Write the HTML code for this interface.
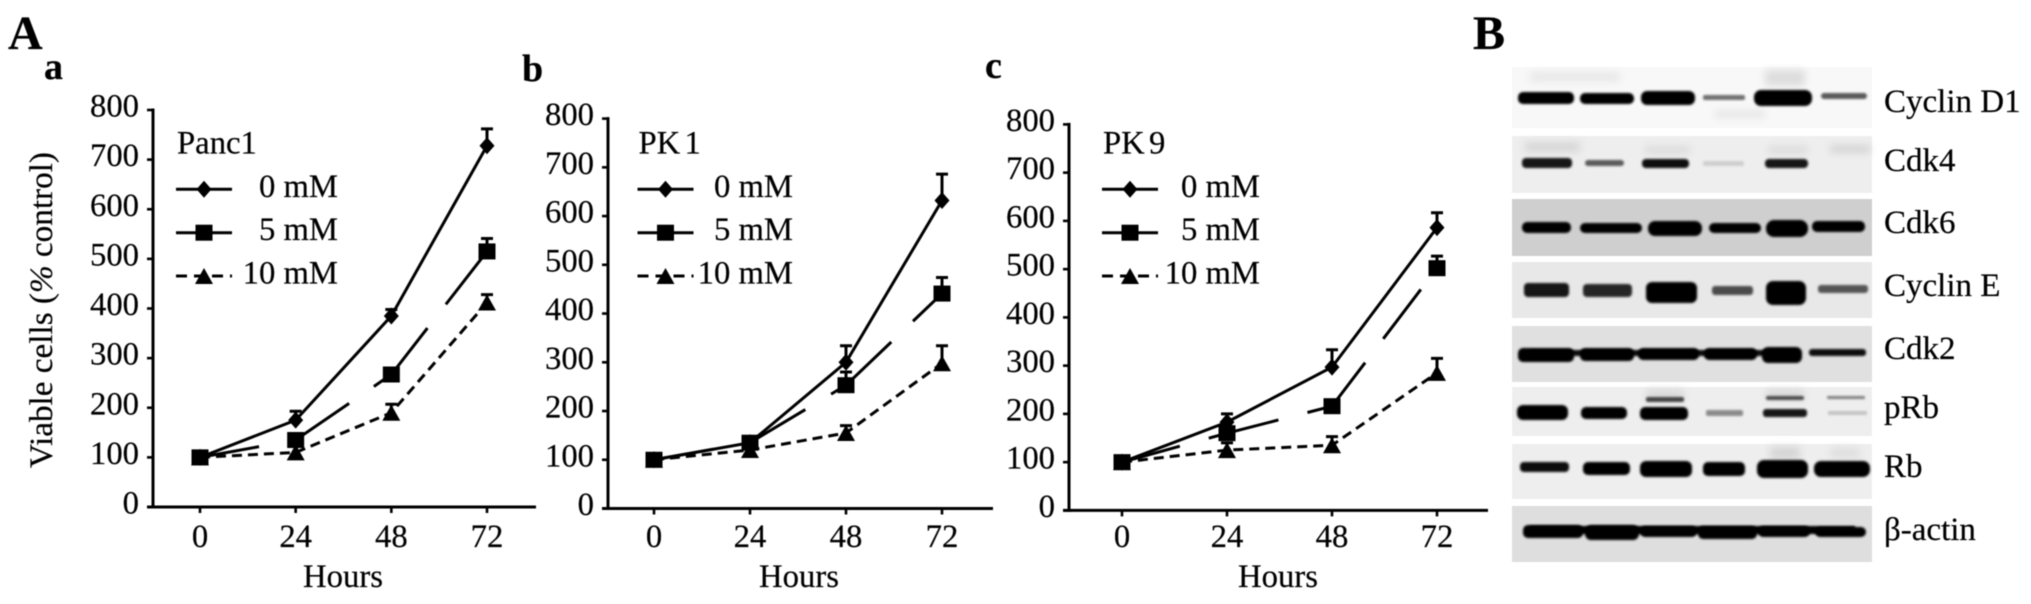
<!DOCTYPE html>
<html lang="en">
<head>
<meta charset="utf-8">
<title>Viability curves and western blots</title>
<style>
html,body{margin:0;padding:0;background:#fff;}
body{width:2031px;height:604px;overflow:hidden;}
svg{display:block;filter:blur(0.45px);}
text{font-family:"Liberation Serif",serif;fill:#000;stroke:#000;stroke-width:0.2px;}
</style>
</head>
<body>
<svg id="figure" xmlns="http://www.w3.org/2000/svg" width="2031" height="604" viewBox="0 0 2031 604">
<defs>
<filter id="band-blur" x="-20%" y="-100%" width="140%" height="300%"><feGaussianBlur stdDeviation="1.1"/></filter>
<filter id="smudge-blur" x="-20%" y="-100%" width="140%" height="300%"><feGaussianBlur stdDeviation="4"/></filter>
</defs>
<text x="8" y="49" font-size="48" font-weight="bold">A</text>
<text x="44" y="79" font-size="38" font-weight="bold">a</text>
<text x="522" y="81" font-size="38" font-weight="bold">b</text>
<text x="985" y="78" font-size="38" font-weight="bold">c</text>
<text x="1473" y="49" font-size="48" font-weight="bold">B</text>
<g id="charts"></g>

<g>
<g>
<rect x="1512" y="67" width="360" height="61" fill="#f8f8f8"/>
<rect x="1530" y="72" width="90" height="10" fill="#e8e8e8" filter="url(#smudge-blur)"/>
<rect x="1765" y="70" width="40" height="16" fill="#dddddd" filter="url(#smudge-blur)"/>
<rect x="1715" y="110" width="50" height="8" fill="#e6e6e6" filter="url(#smudge-blur)"/>
<rect x="1518" y="92" width="56" height="12" rx="5" fill="#000" filter="url(#band-blur)"/>
<rect x="1580" y="93" width="54" height="11" rx="5" fill="#050505" filter="url(#band-blur)"/>
<rect x="1641" y="91" width="54" height="14" rx="6" fill="#000" filter="url(#band-blur)"/>
<rect x="1703" y="95" width="42" height="5" rx="2" fill="#707070" filter="url(#band-blur)"/>
<rect x="1754" y="90" width="58" height="16" rx="7" fill="#000" filter="url(#band-blur)"/>
<rect x="1821" y="93" width="46" height="6" rx="3" fill="#5a5a5a" filter="url(#band-blur)"/>
</g>
<g>
<rect x="1512" y="136" width="360" height="57" fill="#eeeeee"/>
<rect x="1525" y="142" width="55" height="10" fill="#d6d6d6" filter="url(#smudge-blur)"/>
<rect x="1645" y="146" width="45" height="8" fill="#dcdcdc" filter="url(#smudge-blur)"/>
<rect x="1768" y="146" width="40" height="8" fill="#dcdcdc" filter="url(#smudge-blur)"/>
<rect x="1830" y="145" width="40" height="8" fill="#d4d4d4" filter="url(#smudge-blur)"/>
<rect x="1522" y="158" width="50" height="10" rx="4" fill="#151515" filter="url(#band-blur)"/>
<rect x="1585" y="160" width="39" height="6" rx="3" fill="#5c5c5c" filter="url(#band-blur)"/>
<rect x="1642" y="159" width="47" height="9" rx="4" fill="#0c0c0c" filter="url(#band-blur)"/>
<rect x="1703" y="161" width="41" height="5" rx="2" fill="#cfcfcf" filter="url(#band-blur)"/>
<rect x="1765" y="159" width="43" height="9" rx="4" fill="#141414" filter="url(#band-blur)"/>
</g>
<g>
<rect x="1512" y="199" width="360" height="57" fill="#cfcfcf"/>
<rect x="1522" y="222" width="49" height="11" rx="5" fill="#000" filter="url(#band-blur)"/>
<rect x="1580" y="223" width="62" height="10" rx="5" fill="#000" filter="url(#band-blur)"/>
<rect x="1648" y="221" width="54" height="15" rx="7" fill="#000" filter="url(#band-blur)"/>
<rect x="1709" y="223" width="52" height="10" rx="5" fill="#000" filter="url(#band-blur)"/>
<rect x="1766" y="220" width="42" height="17" rx="8" fill="#000" filter="url(#band-blur)"/>
<rect x="1812" y="221" width="53" height="11" rx="5" fill="#000" filter="url(#band-blur)"/>
</g>
<g>
<rect x="1512" y="262" width="360" height="56" fill="#e8e8e8"/>
<rect x="1524" y="283" width="45" height="14" rx="4" fill="#181818" filter="url(#band-blur)"/>
<rect x="1583" y="284" width="49" height="13" rx="4" fill="#262626" filter="url(#band-blur)"/>
<rect x="1646" y="282" width="51" height="21" rx="6" fill="#050505" filter="url(#band-blur)"/>
<rect x="1712" y="286" width="41" height="9" rx="3" fill="#4c4c4c" filter="url(#band-blur)"/>
<rect x="1766" y="281" width="40" height="24" rx="7" fill="#000" filter="url(#band-blur)"/>
<rect x="1818" y="285" width="50" height="8" rx="3" fill="#555" filter="url(#band-blur)"/>
</g>
<g>
<rect x="1512" y="326" width="360" height="56" fill="#e0e0e0"/>
<rect x="1530" y="350" width="260" height="6" fill="#111" filter="url(#band-blur)"/>
<rect x="1518" y="348" width="56" height="14" rx="5" fill="#000" filter="url(#band-blur)"/>
<rect x="1580" y="348" width="54" height="13" rx="5" fill="#000" filter="url(#band-blur)"/>
<rect x="1638" y="348" width="61" height="12" rx="5" fill="#050505" filter="url(#band-blur)"/>
<rect x="1704" y="348" width="53" height="12" rx="5" fill="#050505" filter="url(#band-blur)"/>
<rect x="1762" y="347" width="40" height="16" rx="6" fill="#000" filter="url(#band-blur)"/>
<rect x="1809" y="349" width="57" height="7" rx="3" fill="#0c0c0c" filter="url(#band-blur)"/>
</g>
<g>
<rect x="1512" y="387" width="360" height="49" fill="#eeeeee"/>
<rect x="1646" y="390" width="38" height="10" fill="#d8d8d8" filter="url(#smudge-blur)"/>
<rect x="1766" y="390" width="38" height="10" fill="#d8d8d8" filter="url(#smudge-blur)"/>
<rect x="1646" y="397" width="38" height="5" rx="2" fill="#444" filter="url(#band-blur)"/>
<rect x="1766" y="396" width="38" height="4" rx="2" fill="#4c4c4c" filter="url(#band-blur)"/>
<rect x="1827" y="396" width="38" height="3" rx="1" fill="#808080" filter="url(#band-blur)"/>
<rect x="1517" y="405" width="51" height="15" rx="6" fill="#000" filter="url(#band-blur)"/>
<rect x="1581" y="407" width="46" height="12" rx="5" fill="#000" filter="url(#band-blur)"/>
<rect x="1640" y="407" width="48" height="13" rx="5" fill="#000" filter="url(#band-blur)"/>
<rect x="1706" y="410" width="37" height="6" rx="2" fill="#8a8a8a" filter="url(#band-blur)"/>
<rect x="1763" y="409" width="44" height="8" rx="3" fill="#151515" filter="url(#band-blur)"/>
<rect x="1828" y="411" width="39" height="4" rx="1" fill="#c4c4c4" filter="url(#band-blur)"/>
</g>
<g>
<rect x="1512" y="444" width="360" height="55" fill="#eeeeee"/>
<rect x="1770" y="447" width="30" height="12" fill="#d4d4d4" filter="url(#smudge-blur)"/>
<rect x="1830" y="448" width="30" height="10" fill="#dedede" filter="url(#smudge-blur)"/>
<rect x="1520" y="462" width="49" height="10" rx="4" fill="#080808" filter="url(#band-blur)"/>
<rect x="1583" y="462" width="47" height="13" rx="5" fill="#000" filter="url(#band-blur)"/>
<rect x="1640" y="461" width="52" height="16" rx="6" fill="#000" filter="url(#band-blur)"/>
<rect x="1703" y="462" width="42" height="14" rx="5" fill="#000" filter="url(#band-blur)"/>
<rect x="1757" y="460" width="51" height="18" rx="7" fill="#000" filter="url(#band-blur)"/>
<rect x="1814" y="461" width="56" height="16" rx="7" fill="#000" filter="url(#band-blur)"/>
</g>
<g>
<rect x="1512" y="506" width="360" height="56" fill="#dedede"/>
<rect x="1530" y="526" width="325" height="8" fill="#000" filter="url(#band-blur)"/>
<rect x="1523" y="525" width="60" height="13" rx="5" fill="#000" filter="url(#band-blur)"/>
<rect x="1585" y="525" width="54" height="15" rx="6" fill="#000" filter="url(#band-blur)"/>
<rect x="1640" y="526" width="57" height="11" rx="5" fill="#000" filter="url(#band-blur)"/>
<rect x="1698" y="526" width="59" height="13" rx="5" fill="#000" filter="url(#band-blur)"/>
<rect x="1758" y="526" width="52" height="11" rx="5" fill="#000" filter="url(#band-blur)"/>
<rect x="1815" y="527" width="51" height="10" rx="5" fill="#000" filter="url(#band-blur)"/>
</g>
<text x="1884" y="112" font-size="33">Cyclin D1</text>
<text x="1884" y="171" font-size="33">Cdk4</text>
<text x="1884" y="233" font-size="33">Cdk6</text>
<text x="1884" y="296" font-size="33">Cyclin E</text>
<text x="1884" y="359" font-size="33">Cdk2</text>
<text x="1884" y="418" font-size="33">pRb</text>
<text x="1884" y="477" font-size="33">Rb</text>
<text x="1884" y="540" font-size="33">β-actin</text>
</g>
</svg>

<script>
const hours = [0, 24, 48, 72];
const yTickValues = [0, 100, 200, 300, 400, 500, 600, 700, 800];
const doseLabels = ['0 mM', '5 mM', '10 mM'];

const panc1Dose0 = [100, 175, 385, 728];
const panc1Dose5 = [100, 135, 267, 515];
const panc1Dose10 = [100, 110, 190, 412];
const panc1Err0 = [null, 193, 398, 762];
const panc1Err5 = [null, null, null, 541];
const panc1Err10 = [null, null, 207, 428];

const pk1Dose0 = [100, 135, 300, 632];
const pk1Dose5 = [100, 135, 253, 441];
const pk1Dose10 = [100, 120, 155, 298];
const pk1Err0 = [null, null, 334, 686];
const pk1Err5 = [null, null, 280, 474];
const pk1Err10 = [null, null, 170, 334];

const pk9Dose0 = [100, 183, 297, 586];
const pk9Dose5 = [100, 160, 216, 502];
const pk9Dose10 = [100, 125, 135, 285];
const pk9Err0 = [null, 200, 333, 617];
const pk9Err5 = [null, null, null, 527];
const pk9Err10 = [null, 140, 153, 315];

const NS = 'http://www.w3.org/2000/svg';
const chartsRoot = document.getElementById('charts');
const TEXT_SIZE = 32.7;

function make(parent, tag, attrs, txt) {
  const el = document.createElementNS(NS, tag);
  for (const k in attrs) el.setAttribute(k, attrs[k]);
  if (txt !== undefined) el.textContent = txt;
  parent.appendChild(el);
  return el;
}

function drawMarker(group, kind, cx, cy) {
  let el;
  if (kind === 'diamond') {
    el = make(group, 'polygon', {points: (cx-7.5)+','+cy+' '+cx+','+(cy-8.5)+' '+(cx+7.5)+','+cy+' '+cx+','+(cy+8.5), fill:'#000'});
  } else if (kind === 'square') {
    el = make(group, 'rect', {x: cx-8.5, y: cy-8, width: 17, height: 16, fill:'#000'});
  } else {
    el = make(group, 'polygon', {points: (cx-9)+','+(cy+8)+' '+cx+','+(cy-8)+' '+(cx+9)+','+(cy+8), fill:'#000'});
  }
  
  
}

function drawSeries(group, xScale, yScale, values, errs, kind, dash, name) {
  const s = make(group, 'g', {});
  
  
  const pts = values.map(function (v, i) { return xScale(hours[i]) + ',' + yScale(v); }).join(' ');
  const line = make(s, 'polyline', {points: pts, fill:'none', stroke:'#000', 'stroke-width':3, 'stroke-dasharray':dash});
  
  
  values.forEach(function (v, i) {
    if (errs[i] === null) return;
    const x = xScale(hours[i]);
    const bar = make(s, 'path', {d: 'M' + x + ' ' + yScale(v) + 'V' + yScale(errs[i]) + 'M' + (x-6) + ' ' + yScale(errs[i]) + 'H' + (x+6), fill:'none', stroke:'#000', 'stroke-width':3});
    
    
  });
  values.forEach(function (v, i) {
    drawMarker(s, kind, xScale(hours[i]), yScale(v));
  });
}

function drawPanel(cfg, title, series) {
  const g = make(chartsRoot, 'g', {});
  
  

  const xScale = function (h) { return cfg.x0 + (h / 72) * (cfg.x72 - cfg.x0); };
  const yScale = function (v) { return cfg.bottom - (v / 800) * (cfg.bottom - cfg.top); };

  const yAxis = make(g, 'line', {x1: cfg.axisX, x2: cfg.axisX, y1: cfg.top - 1.5, y2: cfg.bottom + 1.5, stroke:'#000', 'stroke-width':3});
  
  
  const xAxis = make(g, 'line', {x1: cfg.axisX - 6, x2: cfg.axisEnd, y1: cfg.bottom, y2: cfg.bottom, stroke:'#000', 'stroke-width':3});
  
  

  yTickValues.forEach(function (v) {
    const y = yScale(v);
    const t = make(g, 'line', {x1: cfg.axisX - 6, x2: cfg.axisX, y1: y, y2: y, stroke:'#000', 'stroke-width':2.6});
    
    
    const lab = make(g, 'text', {x: cfg.axisX - 14, y: y + 6.5, 'font-size':TEXT_SIZE, 'text-anchor':'end'}, String(v));
    
    
  });

  hours.forEach(function (h) {
    const x = xScale(h);
    const t = make(g, 'line', {x1: x, x2: x, y1: cfg.bottom, y2: cfg.bottom + 6, stroke:'#000', 'stroke-width':2.6});
    
    
    const lab = make(g, 'text', {x: x, y: 547, 'font-size':TEXT_SIZE, 'text-anchor':'middle'}, String(h));
    
    
  });

  const xTitle = make(g, 'text', {x: cfg.titleX, y: 587, 'font-size':TEXT_SIZE, 'text-anchor':'middle'}, 'Hours');
  
  

  const kinds = ['diamond', 'square', 'triangle'];
  const rowY = [189.3, 232.7, 276];
  const dashes = ['none', 'none', '11 7'];

  const leg = make(g, 'g', {});
  
  
  const head = make(leg, 'text', {x: cfg.legX + 1, y: 153.5, 'font-size':TEXT_SIZE, 'word-spacing':-4}, title);
  
  
  doseLabels.forEach(function (label, i) {
    const l = make(leg, 'line', {x1: cfg.legX, x2: cfg.legX + 56, y1: rowY[i], y2: rowY[i], stroke:'#000', 'stroke-width':3, 'stroke-dasharray':dashes[i]});
    
    
    drawMarker(leg, kinds[i], cfg.legX + 28, rowY[i]);
    const lt = make(leg, 'text', {x: cfg.legEnd, y: rowY[i] + 7.5, 'font-size':TEXT_SIZE, 'text-anchor':'end'}, label);
    
    
  });

  drawSeries(g, xScale, yScale, series[0], series[3], 'diamond', 'none', 'series-0-mm');
  drawSeries(g, xScale, yScale, series[2], series[5], 'triangle', '10 6', 'series-10-mm');
  drawSeries(g, xScale, yScale, series[1], series[4], 'square', '60 30 72 30 80 30 62', 'series-5-mm');
}

drawPanel({id:'panc1', x0:200, x72:487, axisX:153, axisEnd:536, top:110, bottom:507, titleX:343, legX:176, legEnd:338},
  'Panc1', [panc1Dose0, panc1Dose5, panc1Dose10, panc1Err0, panc1Err5, panc1Err10]);
drawPanel({id:'pk1', x0:654, x72:942, axisX:608, axisEnd:993, top:118.6, bottom:508.5, titleX:799, legX:637.5, legEnd:793},
  'PK 1', [pk1Dose0, pk1Dose5, pk1Dose10, pk1Err0, pk1Err5, pk1Err10]);
drawPanel({id:'pk9', x0:1122, x72:1437, axisX:1069, axisEnd:1488, top:124.4, bottom:510.4, titleX:1278, legX:1102, legEnd:1260},
  'PK 9', [pk9Dose0, pk9Dose5, pk9Dose10, pk9Err0, pk9Err5, pk9Err10]);

const yTitle = make(chartsRoot, 'text', {transform:'translate(52,310) rotate(-90)', 'font-size':TEXT_SIZE, 'text-anchor':'middle', textLength:316, lengthAdjust:'spacingAndGlyphs'});


yTitle.appendChild(document.createTextNode('Viable cells ('));
const pct = make(yTitle, 'tspan', {'font-style':'italic'}, '%');


yTitle.appendChild(document.createTextNode(' control)'));
</script>
</body>
</html>
